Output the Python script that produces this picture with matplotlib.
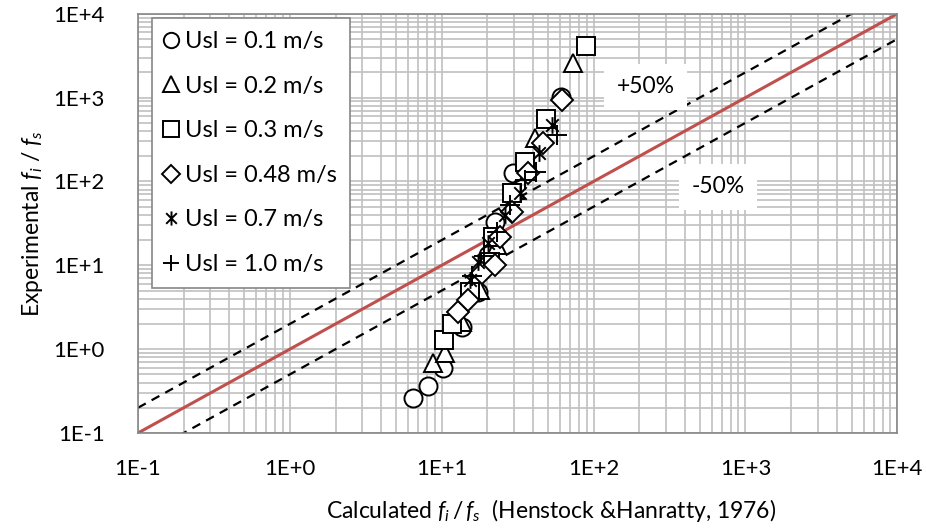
import matplotlib
matplotlib.use("Agg")
import matplotlib.pyplot as plt
import numpy as np
from matplotlib.path import Path
from matplotlib.ticker import LogLocator, FixedLocator, FixedFormatter, NullFormatter

plt.rcParams["font.family"] = ["Lato", "DejaVu Sans"]
plt.rcParams["mathtext.fontset"] = "custom"
plt.rcParams["mathtext.rm"] = "Lato"
plt.rcParams["mathtext.it"] = "Lato:italic"

# data (calculated f_i/f_s, experimental f_i/f_s)
usl01_x = [6.48, 8.13, 10.2, 13.6, 17.4, 20.2, 22.5, 29.5, 61.2]
usl01_y = [0.262, 0.364, 0.597, 1.84, 4.82, 13.3, 33.0, 127, 1023]
usl02_x = [8.78, 10.5, 13.6, 17.9, 23.2, 30.5, 41.2, 73.4]
usl02_y = [0.684, 0.90, 2.11, 5.08, 17.5, 79.4, 331, 2600]
usl03_x = [10.4, 11.7, 15.4, 20.8, 21.8, 29.1, 35.4, 48.7, 89.4]
usl03_y = [1.29, 2.0, 4.82, 11.0, 21.8, 73.1, 169, 558, 4150]
usl048_x = [12.8, 14.9, 18.5, 22.5, 24.3, 29.1, 37.1, 46.6, 62.1]
usl048_y = [2.78, 3.86, 8.11, 10.1, 21.8, 43.4, 127, 289, 942]
usl07_x = [15.4, 17.4, 20.2, 26.2, 32.8, 43.9, 53.4]
usl07_y = [6.70, 11.0, 18.5, 39.9, 73.1, 219, 473]
usl10_x = [15.8, 19.0, 23.2, 28.2, 35.4, 41.9, 57.5]
usl10_y = [7.48, 12.9, 25.1, 52.6, 104, 130, 360]

tick_vals = [1e-1, 1e0, 1e1, 1e2, 1e3, 1e4]
tick_labels = ["1E-1", "1E+0", "1E+1", "1E+2", "1E+3", "1E+4"]
line_x = [1e-1, 1e4]

# excel style star: vertical stroke plus an X
star = Path(
    [(0, -1), (0, 1), (-0.75, -0.75), (0.75, 0.75), (-0.75, 0.75), (0.75, -0.75)],
    [Path.MOVETO, Path.LINETO, Path.MOVETO, Path.LINETO, Path.MOVETO, Path.LINETO],
)

fig = plt.figure(figsize=(9.26, 5.30), dpi=100)
ax = fig.add_axes([0.149, 0.183, 0.820, 0.791])
ax.set_xscale("log")
ax.set_yscale("log")
ax.set_xlim(1e-1, 1e4)
ax.set_ylim(1e-1, 1e4)

for axis in (ax.xaxis, ax.yaxis):
    axis.set_major_locator(FixedLocator(tick_vals))
    axis.set_major_formatter(FixedFormatter(tick_labels))
    axis.set_minor_locator(LogLocator(base=10, subs=np.arange(2, 10)))
    axis.set_minor_formatter(NullFormatter())
ax.grid(True, which="both", color="#c0c0c0", lw=1.2)
ax.set_axisbelow(True)
ax.tick_params(which="both", length=0, labelsize=16)
ax.tick_params(axis="x", pad=19)
ax.tick_params(axis="y", pad=24)
for s in ax.spines.values():
    s.set_color("#868686")
    s.set_linewidth(1.2)

lx = np.array(line_x)
ax.plot(lx, lx, color="#c0504d", lw=2.2, zorder=2)
ax.plot(lx, 2 * lx, color="black", lw=1.6, ls=(0, (4, 3)), zorder=2)
ax.plot(lx, 0.5 * lx, color="black", lw=1.6, ls=(0, (4, 3)), zorder=2)

mk = dict(ls="none", ms=13, mec="black", mew=1.4, zorder=3)
ax.plot(usl01_x, usl01_y, marker="o", mfc="white", label="Usl = 0.1 m/s", **mk)
ax.plot(usl02_x, usl02_y, marker="^", mfc="white", label="Usl = 0.2 m/s", **mk)
ax.plot(usl03_x, usl03_y, marker="s", mfc="white", label="Usl = 0.3 m/s", **mk)
ax.plot(usl048_x, usl048_y, marker="D", mfc="white", label="Usl = 0.48 m/s",
        **{**mk, "ms": 11})
ax.plot(usl07_x, usl07_y, marker=star, mfc="none", label="Usl = 0.7 m/s",
        **{**mk, "ms": 12})
ax.plot(usl10_x, usl10_y, marker="+", mfc="none", label="Usl = 1.0 m/s",
        **{**mk, "ms": 14})

leg = ax.legend(loc="upper left", bbox_to_anchor=(0.018, 0.99), borderaxespad=0,
                fontsize=17, markerscale=0.85, handlelength=0.55, handletextpad=0.3,
                labelspacing=1.0, fancybox=False, framealpha=1, borderpad=0.55)
leg.get_frame().set_edgecolor("#868686")
leg.get_frame().set_linewidth(1.2)

box = dict(facecolor="white", edgecolor="none", pad=9)
ax.text(2.2e2, 1.35e3, "+50%", fontsize=16.5, ha="center", va="center", bbox=box, zorder=4)
ax.text(6.6e2, 8.6e1, "-50%", fontsize=16.5, ha="center", va="center", bbox=box, zorder=4)

ax.set_xlabel(r"Calculated $\mathit{f}_{i}\,/\,\mathit{f}_{s}$  (Henstock &Hanratty, 1976)",
              fontsize=16.5, va="center")
ax.xaxis.set_label_coords(0.544, -0.184)
ax.set_ylabel(r"Experimental $\mathit{f}_{i}$ / $\mathit{f}_{s}$", fontsize=16.5, labelpad=6)

fig.savefig("out.png", dpi=100)
